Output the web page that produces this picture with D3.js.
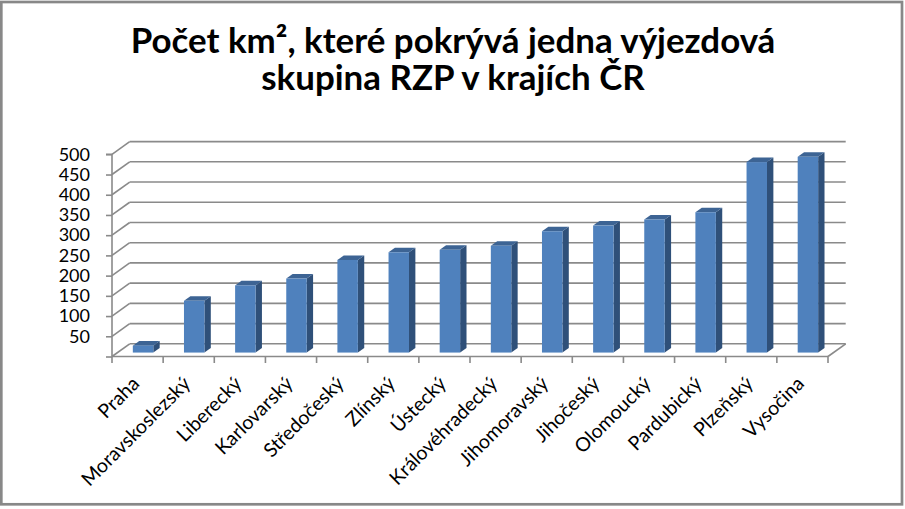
<!DOCTYPE html>
<html><head><meta charset="utf-8">
<script src="https://cdn.jsdelivr.net/npm/d3@7"></script>
<style>html,body{margin:0;padding:0;background:#fff;}svg{display:block;}</style>
</head><body>
<svg id="c" width="905" height="509"></svg>
<script>
const categories = ["Praha","Moravskoslezský","Liberecký","Karlovarský","Středočeský","Zlínský","Ústecký","Královéhradecký","Jihomoravský","Jihočeský","Olomoucký","Pardubický","Plzeňský","Vysočina"];
const values = [17,128,166,183,229,248,254,264,300,314,329,347,471,484];
const yTicks = [0,50,100,150,200,250,300,350,400,450,500];
const yTickLabels = ["","50","100","150","200","250","300","350","400","450","500"];
const titleLines = ["Počet km², které pokrývá jedna výjezdová","skupina RZP v krajích ČR"];

const svg = d3.select("#c");
const FONT = "Lato, 'Open Sans', sans-serif";
const GRID = "#8a8a8a";

// layout
const x0 = 112, x1 = 828, yBase = 356.5, yTop = 154.3;
const DX = 17.7, DY = -12.7;           // depth offset of the back wall
const f0 = 0.31, f1 = 0.67;             // bar front/back depth fractions

const x = d3.scaleBand().domain(categories).range([x0, x1]).paddingInner(0.6).paddingOuter(0.3);
const y = d3.scaleLinear().domain([0, 500]).range([yBase, yTop]);
const step = x.step();

// border
svg.append("rect").attr("x",1.3).attr("y",2).attr("width",900.7).attr("height",502.3)
  .attr("fill","#fff").attr("stroke","#888").attr("stroke-width",2.7);

// title
const title = svg.append("g");
const tl = title.selectAll("text").data(titleLines).join("text")
  .attr("x", 453).attr("y", (d,i)=> 52.7 + i*37.5)
  .attr("text-anchor","middle").attr("font-family",FONT).attr("font-weight","bold")
  .attr("font-size",30).attr("fill","#000").text(d=>d);
// fit first line to reference width
const w0 = tl.node().getComputedTextLength();
const fs = 30 * 645 / w0;
tl.attr("font-size", fs);

// back wall gridlines + left wall diagonals
const grid = svg.append("g").attr("stroke",GRID).attr("stroke-width",1.6).attr("fill","none");
grid.selectAll("line.back").data(yTicks).join("line").attr("class","back")
  .attr("x1", x0+DX).attr("x2", x1+DX).attr("y1", d=>y(d)+DY).attr("y2", d=>y(d)+DY);
grid.selectAll("line.side").data(yTicks).join("line").attr("class","side")
  .attr("x1", x0).attr("x2", x0+DX).attr("y1", d=>y(d)).attr("y2", d=>y(d)+DY);
// floor right edge
grid.append("line").attr("x1",x1).attr("y1",y(0)).attr("x2",x1+DX).attr("y2",y(0)+DY);

// y axis (front)
const yAxisG = svg.append("g").attr("transform",`translate(${x0},0)`)
  .call(d3.axisLeft(y).tickValues(yTicks).tickSize(6).tickPadding(16).tickFormat((d,i)=>yTickLabels[i]));
yAxisG.select(".domain").attr("stroke",GRID).attr("stroke-width",1.6).attr("d",`M-6,${yTop}H0V${yBase}`);
yAxisG.selectAll(".tick line").attr("stroke",GRID).attr("stroke-width",1.6);
yAxisG.selectAll(".tick text").attr("font-family",FONT).attr("font-size",18).attr("fill","#000");

// x axis (front floor edge)
const xAxisG = svg.append("g").attr("transform",`translate(0,${yBase})`)
  .call(d3.axisBottom(x).tickSize(0).tickFormat(""));
xAxisG.select(".domain").attr("stroke",GRID).attr("stroke-width",1.6).attr("d",`M${x0},0H${x1}`);
const bounds = d3.range(categories.length+1).map(i=> x0 + i*step);
xAxisG.selectAll("line.bt").data(bounds).join("line").attr("class","bt")
  .attr("x1",d=>d).attr("x2",d=>d).attr("y1",0).attr("y2",6.5)
  .attr("stroke",GRID).attr("stroke-width",1.6);

// bars
const bars = svg.append("g");
categories.forEach((c,i)=>{
  const v = values[i];
  const bx = x(c), bw = x.bandwidth();
  const ox = f0*DX, oy = f0*DY, dd = (f1-f0);
  const ddx = dd*DX, ddy = dd*DY;
  const L = bx+ox, R = bx+bw+ox, T = y(v)+oy, B = y(0)+oy;
  const g = bars.append("g");
  // side
  g.append("path").attr("d",`M${R},${T}L${R+ddx},${T+ddy}L${R+ddx},${B+ddy}L${R},${B}Z`).attr("fill","#2F5079");
  // top
  g.append("path").attr("d",`M${L},${T}L${L+ddx},${T+ddy}L${R+ddx},${T+ddy}L${R},${T}Z`).attr("fill","#3D6494");
  // front
  g.append("rect").attr("x",L).attr("y",T).attr("width",bw).attr("height",B-T).attr("fill","#4F81BD");
});

// category labels
svg.append("g").selectAll("text").data(categories).join("text")
  .attr("transform", d=>`translate(${x(d)+x.bandwidth()/2+3},385) rotate(-45)`)
  .attr("text-anchor","end").attr("font-family",FONT).attr("font-size",19.5).attr("fill","#000")
  .text(d=>d);
</script>
</body></html>
